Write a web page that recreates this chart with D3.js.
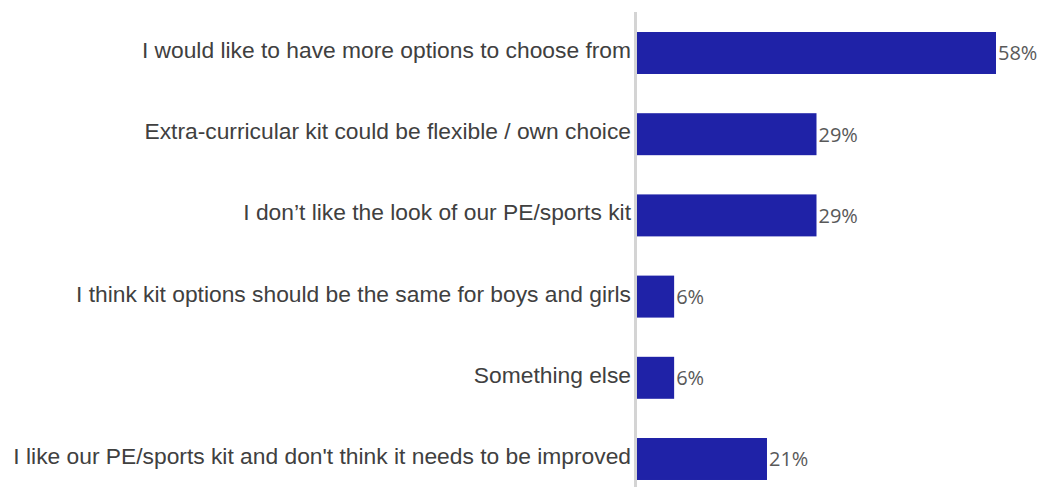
<!DOCTYPE html>
<html>
<head>
<meta charset="utf-8">
<script src="https://cdn.jsdelivr.net/npm/d3@7"></script>
<style>
  html, body { margin: 0; padding: 0; background: #fff; }
  svg { display: block; }
</style>
</head>
<body>
<svg id="chart" width="1040" height="487"></svg>
<script>
// Survey responses: how PE/sports kit could be improved
const categories = [
  "I would like to have more options to choose from",
  "Extra-curricular kit could be flexible / own choice",
  "I don\u2019t like the look of our PE/sports kit",
  "I think kit options should be the same for boys and girls",
  "Something else",
  "I like our PE/sports kit and don't think it needs to be improved"
];
const values = [58, 29, 29, 6, 6, 21];

const svg = d3.select("#chart");
const x0 = 637;

const x = d3.scaleLinear().domain([0, 58]).range([x0, 996]);
const y = d3.scaleBand()
  .domain(categories)
  .range([12.4, 499.6])
  .paddingInner(0.483)
  .paddingOuter(0.2415);

// bars
svg.append("g").selectAll("rect")
  .data(categories)
  .join("rect")
  .attr("x", x(0))
  .attr("y", d => y(d))
  .attr("width", (d, i) => x(values[i]) - x(0))
  .attr("height", y.bandwidth())
  .attr("fill", "#1f22a7");

// vertical axis line
svg.append("line")
  .attr("x1", 635.5).attr("x2", 635.5)
  .attr("y1", 12).attr("y2", 487)
  .attr("stroke", "#d4d4d4")
  .attr("stroke-width", 3);

// category labels
svg.append("g").selectAll("text")
  .data(categories)
  .join("text")
  .attr("x", 631)
  .attr("y", d => y(d) + y.bandwidth() / 2)
  .attr("dy", "0.22em")
  .attr("text-anchor", "end")
  .attr("font-family", "'Liberation Sans', Arial, sans-serif")
  .attr("font-size", 22.8)
  .attr("fill", "#404040")
  .text(d => d);

// value labels
svg.append("g").selectAll("text")
  .data(categories)
  .join("text")
  .attr("x", (d, i) => x(values[i]) + 2)
  .attr("y", d => y(d) + y.bandwidth() / 2)
  .attr("dy", "0.37em")
  .attr("font-family", "'Open Sans', sans-serif")
  .attr("font-size", 20)
  .attr("fill", "#595959")
  .text((d, i) => values[i] + "%");
</script>
</body>
</html>
